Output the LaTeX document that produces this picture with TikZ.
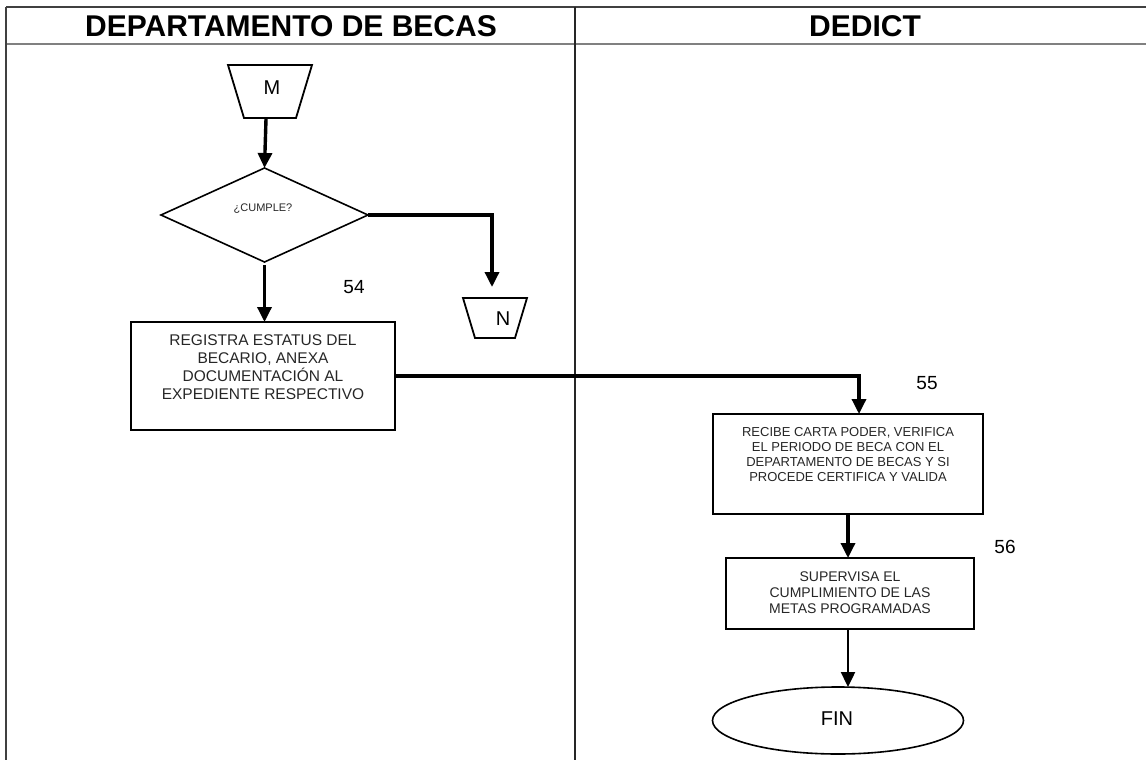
\documentclass[tikz,border=0pt]{standalone}
\usepackage{fontspec}
\setmainfont{Liberation Sans}
\usetikzlibrary{arrows.meta,shapes.geometric}
\begin{document}
\begin{tikzpicture}[x=1pt,y=-1pt,
  conn/.style={line width=3.4pt,-{Triangle[length=15pt,width=14pt]}},
  box/.style={draw,line width=2pt,inner sep=0pt,outer sep=0pt},
  boxtext/.style={inner sep=0pt,align=center,text=black!85},
  num/.style={inner sep=0pt,font=\fontsize{19}{19}\selectfont},
  hdr/.style={inner sep=0pt,font=\bfseries\fontsize{30}{30}\selectfont},
  frameline/.style={line width=2.4pt,black!75}]
\useasboundingbox (0,0) rectangle (1146,760);
% frame
\draw[frameline] (6,7) -- (1146,7);
\draw[frameline,black!50] (6,44) -- (1146,44);
\draw[frameline] (6,7) -- (6,760);
\draw[frameline,black!85] (575,7) -- (575,760);
% headers
\node[hdr] (h1) at (291,26) {DEPARTAMENTO DE BECAS};
\node[hdr] (h2) at (865,26) {DEDICT};
% connector M
\draw[line width=1.8pt] (228,65) -- (312,65) -- (296,118) -- (244,118) -- cycle;
\coordinate (Mb) at (266,119);
\node[num,font=\fontsize{20}{20}\selectfont] (M) at (272,88) {M};
% decision
\node[diamond,draw,line width=1.6pt,minimum width=207pt,minimum height=94pt,inner sep=0pt,outer sep=0pt] (q) at (264.5,215) {};
\node[boxtext,font=\fontsize{11}{11}\selectfont] (qt) at (263,209) {¿CUMPLE?};
\draw[conn] (Mb) -- (q.north);
% connector N
\draw[line width=1.8pt] (463,298) -- (527,298) -- (515,338) -- (475,338) -- cycle;
\coordinate (Nt) at (492,287);
\node[num,font=\fontsize{20}{20}\selectfont] (N) at (503,319) {N};
\draw[conn] (q.east) -| (Nt);
% step 54
\node[num] (n54) at (354,287) {54};
\node[box,minimum width=264pt,minimum height=108pt] (b1) at (263,376) {};
\node[boxtext,font=\fontsize{15.5}{18}\selectfont] (t1) at (263,367)
  {REGISTRA ESTATUS DEL\\BECARIO, ANEXA\\DOCUMENTACIÓN AL\\EXPEDIENTE RESPECTIVO};
\draw[conn] ([yshift=-3pt]q.south) -- (q.south |- b1.north);
% step 55
\node[num] (n55) at (927,383) {55};
\node[box,minimum width=270pt,minimum height=100pt] (b2) at (848,464) {};
\node[boxtext,font=\fontsize{13}{15}\selectfont] (t2) at (848,455)
  {RECIBE CARTA PODER, VERIFICA\\EL PERIODO DE BECA CON EL\\DEPARTAMENTO DE BECAS Y SI\\PROCEDE CERTIFICA Y VALIDA};
\draw[conn] (b1.east) -| ([xshift=11pt]b2.north);
% step 56
\node[num] (n56) at (1005,547) {56};
\node[box,minimum width=248pt,minimum height=71pt] (b3) at (850,593.5) {};
\node[boxtext,font=\fontsize{14}{16}\selectfont] (t3) at (850,593)
  {SUPERVISA EL\\CUMPLIMIENTO DE LAS\\METAS PROGRAMADAS};
\draw[conn] (b2.south) -- (b2.south |- b3.north);
% end
\node[ellipse,draw,line width=1.6pt,minimum width=251pt,minimum height=67pt,inner sep=0pt,outer sep=0pt] (fin) at (838,720.5) {};
\node[num,font=\fontsize{20}{20}\selectfont] (fint) at (837,719) {FIN};
\draw[line width=2.4pt,-{Triangle[length=15pt,width=14pt]}] ([xshift=-2pt]b3.south) -- ([xshift=10pt]fin.north);
\end{tikzpicture}
\end{document}
